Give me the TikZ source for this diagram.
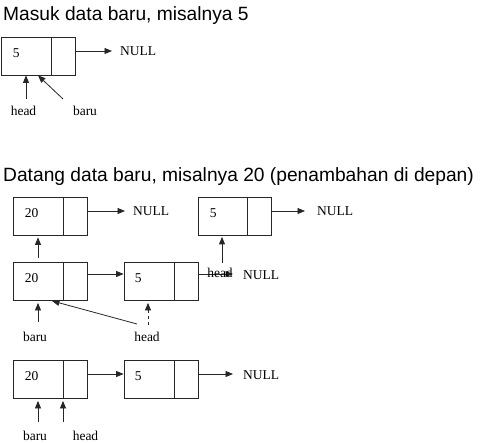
\documentclass[tikz,border=0pt]{standalone}
\usepackage{fontspec}
\setmainfont{Liberation Serif}
\newfontfamily\titlefont{Liberation Sans}
\usetikzlibrary{arrows.meta,calc}
\begin{document}
\begin{tikzpicture}[x=1pt,y=-1pt,
  cell/.style={draw=black!85, line width=0.8pt, minimum height=38pt, inner sep=0pt},
  datacell/.style={cell, minimum width=50pt},
  ptrcell/.style={cell, minimum width=24pt},
  val/.style={anchor=west, inner sep=0pt, font=\fontsize{13.5}{15}\selectfont},
  lbl/.style={inner sep=0pt, font=\fontsize{13.5}{15}\selectfont},
  nul/.style={lbl, anchor=west},
  ttl/.style={anchor=base west, inner sep=0pt, font=\titlefont\fontsize{19.2}{22}\selectfont},
  arr/.style={draw=black!85, line width=0.8pt, -{Triangle[length=7.5pt,width=6pt]}},
]
\useasboundingbox (0,0) rectangle (497,443);

% ---------- Part 1 ----------
\node[ttl] (t1) at (3,20.5) {Masuk data baru, misalnya 5};
\node[datacell] (a1) at (26,56) {};
\node[ptrcell] (a1p) at (63,56) {};
\node[val] at ([xshift=12pt,yshift=3pt]a1.west) {5};
\node[nul] (n1) at (120,51) {NULL};
\draw[arr] ([yshift=5pt]a1p.east) -- ([xshift=-8pt]n1.west);
\node[lbl] (h1) at (23.5,111) {head};
\node[lbl] (b1) at (85,111) {baru};
\coordinate (h1t) at (26,99);
\coordinate (b1t) at (63,99);
\draw[arr] (h1t) -- (h1t |- a1.south);
\draw[arr] (b1t) -- ([xshift=12pt]a1.south);

% ---------- Part 2 ----------
\node[ttl] (t2) at (3,181.5) {Datang data baru, misalnya 20 (penambahan di depan)};

% row 1
\node[datacell] (ra) at (38,216.5) {};
\node[ptrcell] (rap) at (75,216.5) {};
\node[val] at ([xshift=12pt,yshift=3pt]ra.west) {20};
\node[nul] (n2) at (133,211) {NULL};
\draw[arr] ([yshift=5.5pt]rap.east) -- ([xshift=-8pt]n2.west);

\node[datacell, minimum width=49pt] (rb) at (222.5,216.5) {};
\node[ptrcell] (rbp) at (259,216.5) {};
\node[val] at ([xshift=12pt,yshift=3pt]rb.west) {5};
\node[nul] (n3) at (317,211) {NULL};
\draw[arr] ([yshift=5.5pt]rbp.east) -- ([xshift=-12pt]n3.west);

% row 2
\node[datacell] (rc) at (38,281.5) {};
\node[ptrcell] (rcp) at (75,281.5) {};
\node[val] at ([xshift=12pt,yshift=3pt]rc.west) {20};
\node[datacell] (rd) at (149,281.5) {};
\node[ptrcell] (rdp) at (186,281.5) {};
\node[val] at ([xshift=11pt,yshift=3pt]rd.west) {5};
\draw[arr] ([yshift=7.5pt]rcp.east) -- ([yshift=7.5pt]rd.west);
\node[nul] (n4) at (243,275) {NULL};
\draw[arr] ([yshift=7.5pt]rdp.east) -- ([yshift=7.5pt,xshift=-10pt]rdp.east -| n4.west);
\node[lbl] (h2) at (220,273) {head};
\coordinate (h2t) at (222,263);
\draw[arr] (h2t) -- ([yshift=-1pt]h2t |- rb.south);
\draw[arr, shorten <=4pt] (rc.north) -- ([yshift=-1.5pt]ra.south);

\node[lbl] (b2) at (35,337) {baru};
\node[lbl] (h3) at (147,337) {head};
\coordinate (b2t) at (38,322);
\coordinate (h3t) at (137,324);
\coordinate (h3d) at (148,325);
\draw[arr] (b2t) -- ([yshift=-2pt]b2t |- rc.south);
\draw[arr] (h3t) -- ([xshift=14pt]rc.south);
\draw[arr, dashed] (h3d) -- ([yshift=-2pt]h3d |- rd.south);

% row 3
\node[datacell] (re) at (38,379.5) {};
\node[ptrcell] (rep) at (75,379.5) {};
\node[val] at ([xshift=12pt,yshift=3pt]re.west) {20};
\node[datacell] (rf) at (149,379.5) {};
\node[ptrcell] (rfp) at (186,379.5) {};
\node[val] at ([xshift=11pt,yshift=3pt]rf.west) {5};
\draw[arr] ([yshift=5.5pt]rep.east) -- ([yshift=5.5pt]rf.west);
\node[nul] (n5) at (243,375) {NULL};
\draw[arr] ([yshift=5.5pt]rfp.east) -- ([yshift=5.5pt,xshift=-10pt]rfp.east -| n5.west);

\node[lbl] (b3) at (35,435.5) {baru};
\node[lbl] (h4) at (85.5,435.5) {head};
\coordinate (b3t) at (38,422);
\coordinate (h4t) at (63,422);
\draw[arr] (b3t) -- ([yshift=-2pt]b3t |- re.south);
\draw[arr] (h4t) -- ([yshift=-2pt]h4t |- re.south);
\end{tikzpicture}
\end{document}
